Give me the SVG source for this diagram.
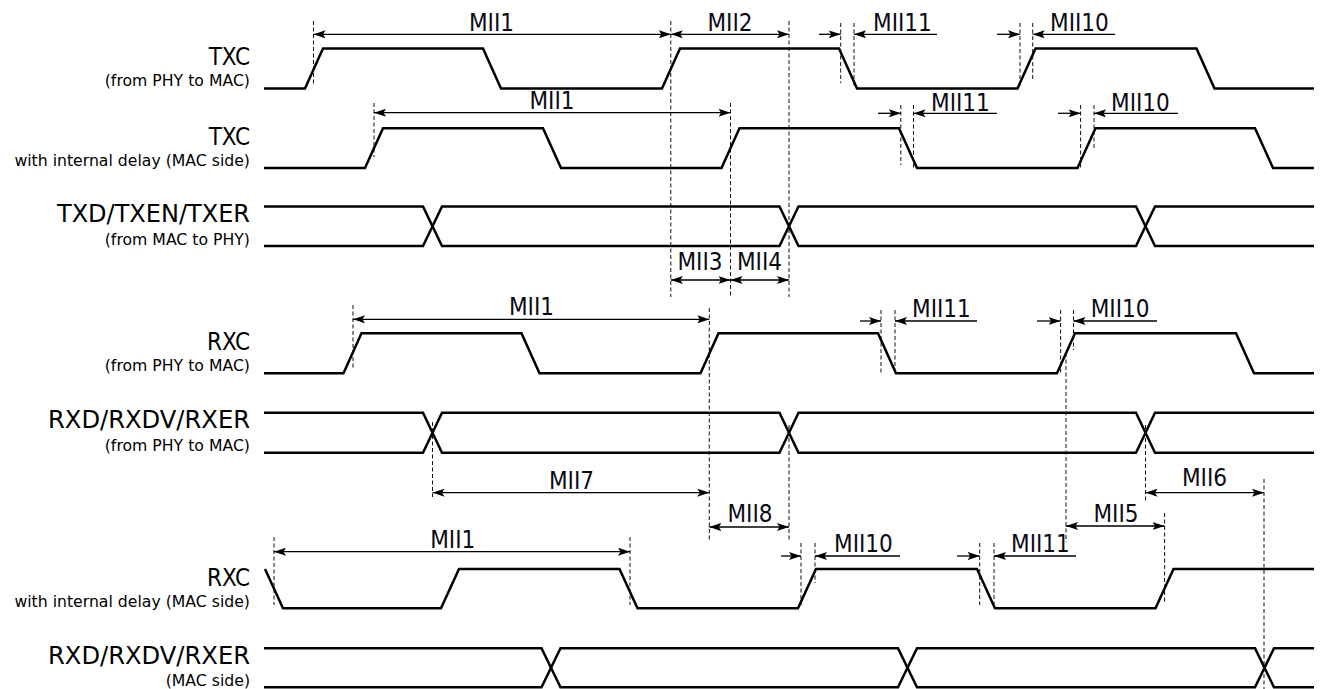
<svg xmlns="http://www.w3.org/2000/svg" width="1324" height="689" viewBox="0 0 1324 689">
<style>
.bg{fill:#ffffff}
.wave{fill:none;stroke:#000;stroke-width:2.5;stroke-linejoin:miter}
.dash{fill:none;stroke:#111;stroke-width:1;stroke-dasharray:4 2.5}
.arr{fill:none;stroke:#000;stroke-width:1.3}
.dbl{marker-start:url(#ah);marker-end:url(#ah)}
.one{marker-end:url(#ah)}
.big{font-family:"DejaVu Sans Condensed","DejaVu Sans","Liberation Sans",sans-serif;font-stretch:condensed;font-size:24px;fill:#000;text-anchor:end}
.small{font-family:"DejaVu Sans","Liberation Sans",sans-serif;font-size:15.7px;fill:#000;text-anchor:end}
.mii{font-family:"DejaVu Sans Condensed","DejaVu Sans","Liberation Sans",sans-serif;font-stretch:condensed;font-size:24px;fill:#0a0a14}
.c{text-anchor:middle}
</style>
<defs>
<marker id="ah" viewBox="0 0 12 8" refX="12" refY="4" markerWidth="12" markerHeight="8" markerUnits="userSpaceOnUse" orient="auto-start-reverse">
<path d="M0,0 L12,4 L0,8 L2.5,4 z" fill="#000"/>
</marker>
</defs>
<rect class="bg" x="0" y="0" width="1324" height="689"/>

<g id="txc-phy">
<text class="big" x="250" y="65">TXC</text>
<text class="small" x="250" y="86">(from PHY to MAC)</text>
<path class="wave" d="M264,88.5 H305 L323,48.5 H483 L501,88.5 H662 L680,48.5 H839 L857,88.5 H1017.5 L1035.5,48.5 H1196.5 L1214.5,88.5 H1314"/>
</g>

<g id="txc-delay">
<text class="big" x="250" y="145">TXC</text>
<text class="small" x="250" y="166">with internal delay (MAC side)</text>
<path class="wave" d="M264,168 H365 L383,128.3 H543 L561,168 H721.5 L739.5,128.3 H899 L917,168 H1077.5 L1095.5,128.3 H1255 L1273,168 H1314"/>
</g>

<g id="txd">
<text class="big" x="250" y="222" textLength="193" lengthAdjust="spacingAndGlyphs">TXD/TXEN/TXER</text>
<text class="small" x="250" y="245">(from MAC to PHY)</text>
<path class="wave" d="M264,206.5 H423 L442,246 H779.5 L798.5,206.5 H1136 L1155,246 H1314"/>
<path class="wave" d="M264,246 H423 L442,206.5 H779.5 L798.5,246 H1136 L1155,206.5 H1314"/>
</g>

<g id="rxc-phy">
<text class="big" x="250" y="350">RXC</text>
<text class="small" x="250" y="371">(from PHY to MAC)</text>
<path class="wave" d="M264,373.3 H343.5 L361.5,333.3 H521.5 L539.5,373.3 H700.5 L718.5,333.3 H878 L896,373.3 H1057 L1075,333.3 H1236 L1254,373.3 H1314"/>
</g>

<g id="rxd-phy">
<text class="big" x="250" y="428" textLength="202" lengthAdjust="spacingAndGlyphs">RXD/RXDV/RXER</text>
<text class="small" x="250" y="451">(from PHY to MAC)</text>
<path class="wave" d="M264,412.7 H423 L442,452.7 H779.5 L798.5,412.7 H1136 L1155,452.7 H1314"/>
<path class="wave" d="M264,452.7 H423 L442,412.7 H779.5 L798.5,452.7 H1136 L1155,412.7 H1314"/>
</g>

<g id="rxc-delay">
<text class="big" x="250" y="586">RXC</text>
<text class="small" x="250" y="607">with internal delay (MAC side)</text>
<path class="wave" d="M265,569 L283,608.3 H441 L459,569 H619.5 L637.5,608.3 H798 L816,569 H977 L995,608.3 H1155.5 L1173.5,569 H1314"/>
</g>

<g id="rxd-mac">
<text class="big" x="250" y="664" textLength="202" lengthAdjust="spacingAndGlyphs">RXD/RXDV/RXER</text>
<text class="small" x="250" y="686">(MAC side)</text>
<path class="wave" d="M264,648.3 H541.5 L560.5,687.3 H898 L917,648.3 H1255 L1274,687.3 H1314"/>
<path class="wave" d="M264,687.3 H541.5 L560.5,648.3 H898 L917,687.3 H1255 L1274,648.3 H1314"/>
</g>

<g id="connectors">
<path class="dash" d="M313.5,21 V84 M670.8,21 V297 M789,21 V297 M840.7,23 V83 M854,23 V88 M1020,23 V88 M1032.7,23 V80"/>
<path class="dash" d="M374,103 V157 M730.5,103 V297 M900.8,105 V165 M913.5,105 V168 M1080.6,105 V168 M1094,105 V150"/>
<path class="dash" d="M353,305 V370 M709.3,308 V542 M881,310 V373 M895,310 V373 M1060.6,310 V373 M1073.5,310 V350 M1066,353 V542"/>
<path class="dash" d="M432.5,422 V497 M789,425 V542 M1145.5,425 V503"/>
<path class="dash" d="M274,537 V605 M630,537 V605 M801,543 V608 M815,543 V583 M979.7,543 V605 M994,543 V608 M1164.6,513 V603 M1264,479 V689"/>

<text class="mii c" x="491.5" y="31">MII1</text>
<line class="arr dbl" x1="313.5" y1="34.3" x2="670.8" y2="34.3"/>
<text class="mii c" x="730" y="31">MII2</text>
<line class="arr dbl" x1="670.8" y1="34.3" x2="789" y2="34.3"/>
<line class="arr one" x1="819" y1="34.3" x2="840.7" y2="34.3"/>
<line class="arr one" x1="937" y1="34.3" x2="854" y2="34.3"/>
<text class="mii" x="873" y="31">MII11</text>
<line class="arr one" x1="997" y1="34.3" x2="1020" y2="34.3"/>
<line class="arr one" x1="1115" y1="34.3" x2="1032.7" y2="34.3"/>
<text class="mii" x="1050" y="31">MII10</text>

<text class="mii c" x="552" y="108.5">MII1</text>
<line class="arr dbl" x1="374" y1="112.7" x2="730.5" y2="112.7"/>
<line class="arr one" x1="878" y1="113.3" x2="900.8" y2="113.3"/>
<line class="arr one" x1="997" y1="113.3" x2="913.5" y2="113.3"/>
<text class="mii" x="931" y="110.5">MII11</text>
<line class="arr one" x1="1058" y1="113.3" x2="1080.6" y2="113.3"/>
<line class="arr one" x1="1178" y1="113.3" x2="1094" y2="113.3"/>
<text class="mii" x="1111" y="110.5">MII10</text>

<text class="mii c" x="700" y="269.5">MII3</text>
<text class="mii c" x="759.5" y="269.5">MII4</text>
<line class="arr dbl" x1="670.8" y1="280" x2="730.5" y2="280"/>
<line class="arr dbl" x1="730.5" y1="280" x2="789" y2="280"/>

<text class="mii c" x="531.5" y="315">MII1</text>
<line class="arr dbl" x1="353" y1="319.3" x2="709.3" y2="319.3"/>
<line class="arr one" x1="860" y1="321" x2="881" y2="321"/>
<line class="arr one" x1="977" y1="321" x2="895" y2="321"/>
<text class="mii" x="912" y="317">MII11</text>
<line class="arr one" x1="1037" y1="321" x2="1060.6" y2="321"/>
<line class="arr one" x1="1157" y1="321" x2="1073.5" y2="321"/>
<text class="mii" x="1090.7" y="317">MII10</text>

<text class="mii c" x="571.5" y="489">MII7</text>
<line class="arr dbl" x1="432.5" y1="492.7" x2="709.3" y2="492.7"/>
<text class="mii c" x="1204.5" y="486">MII6</text>
<line class="arr dbl" x1="1145.5" y1="492.7" x2="1264" y2="492.7"/>
<text class="mii c" x="750" y="521.7">MII8</text>
<line class="arr dbl" x1="709.3" y1="527" x2="789" y2="527"/>
<text class="mii c" x="1116" y="521.7">MII5</text>
<line class="arr dbl" x1="1066" y1="526" x2="1164.6" y2="526"/>

<text class="mii c" x="452.7" y="548.3">MII1</text>
<line class="arr dbl" x1="274" y1="551.7" x2="630" y2="551.7"/>
<line class="arr one" x1="781" y1="556" x2="801" y2="556"/>
<line class="arr one" x1="900" y1="556" x2="815" y2="556"/>
<text class="mii" x="834" y="552">MII10</text>
<line class="arr one" x1="957" y1="556" x2="979.7" y2="556"/>
<line class="arr one" x1="1076" y1="556" x2="994" y2="556"/>
<text class="mii" x="1011" y="552">MII11</text>
</g>
</svg>
